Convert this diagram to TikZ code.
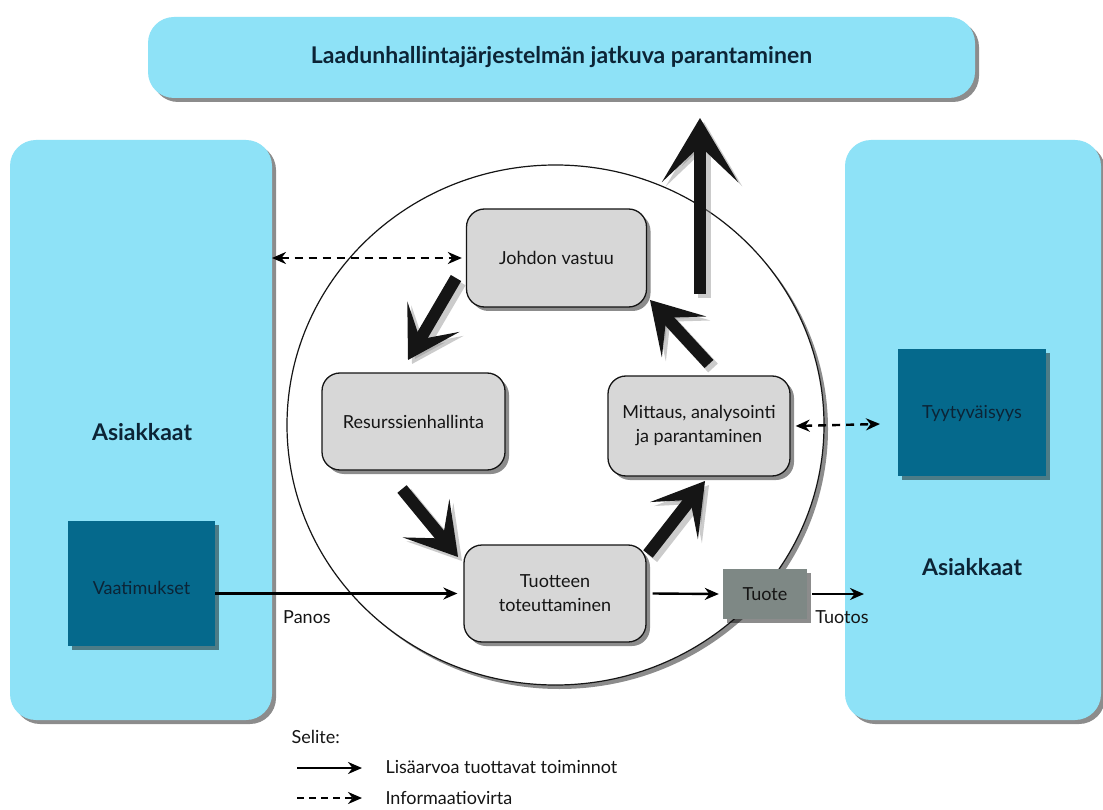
\documentclass[tikz,border=0pt]{standalone}
\usepackage{fontspec}
\setmainfont{Lato}
\usetikzlibrary{arrows.meta,shadows,shapes.geometric}
\definecolor{cyanc}{HTML}{8EE2F7}
\definecolor{tealc}{HTML}{05698C}
\definecolor{navyt}{HTML}{0C2436}
\definecolor{grayc}{HTML}{D7D7D7}
\definecolor{tuotec}{HTML}{7E8885}
\definecolor{inkc}{HTML}{151515}
\begin{document}
\begin{tikzpicture}[x=1pt,y=-1pt,
  font=\fontsize{18}{24}\selectfont,
  shad/.style={drop shadow={shadow xshift=4pt,shadow yshift=-4pt,opacity=0.45,fill=black}},
  cyanbox/.style={fill=cyanc, rounded corners=26pt, shad},
  darkbox/.style={fill=tealc, text=navyt, shad},
  procbox/.style={fill=grayc, draw=inkc, line width=1.3pt, rounded corners=18pt, shad, align=center, minimum width=180pt, minimum height=98pt, text=inkc},
  tuotebox/.style={fill=tuotec, text=inkc, shad, minimum width=84pt, minimum height=50pt},
  sketch/.style={draw=inkc, line width=12pt, -{Stealth[length=50pt,width=60pt,inset=26pt]}},
  sketchshadow/.style={draw=black!45, line width=13pt, opacity=0.45, -{Stealth[length=50pt,width=60pt,inset=26pt]}},
  bigup/.style={-{Stealth[length=64pt,width=76pt,inset=36pt]}},
  flow/.style={draw=black, line width=2.4pt, -{Stealth[length=14pt,width=12pt]}},
  info/.style={draw=black, line width=2.4pt, dash pattern=on 8pt off 6pt, {Stealth[length=14pt,width=12pt]}-{Stealth[length=14pt,width=12pt]}},
  lbl/.style={text=inkc},
  bigbold/.style={font=\fontsize{23}{26}\selectfont\bfseries, text=navyt}
]
\useasboundingbox (0,0) rectangle (1103,810);
\fill[white] (0,0) rectangle (1103,810);

% top banner
\node[cyanbox, bigbold, minimum width=827pt, minimum height=81pt] (top) at (561.5,57.5) {Laadunhallintajärjestelmän jatkuva parantaminen};

% side customer blocks
\node[cyanbox, minimum width=262pt, minimum height=580pt] (left) at (141,430) {};
\node[cyanbox, minimum width=256pt, minimum height=580pt] (right) at (973,430) {};
\node[bigbold] (asl) at (142,432) {Asiakkaat};
\node[bigbold] (asr) at (972,567) {Asiakkaat};

\node[darkbox, minimum width=147pt, minimum height=125pt] (vaat) at (141.5,583.5) {};
\node[text=navyt] (vaatt) at (141.5,588) {Vaatimukset};
\node[darkbox, minimum width=148pt, minimum height=127pt] (tyyt) at (972,412.5) {};
\node[text=navyt] (tyytt) at (972,413) {Tyytyväisyys};

% circle
\node[ellipse, draw=inkc, line width=1.2pt, fill=white, inner sep=0pt, minimum width=537pt, minimum height=520pt, shad] (circ) at (555.5,425) {};

% process boxes
\node[procbox] (johto) at (556.5,258) {Johdon vastuu};
\node[procbox, minimum width=183pt, minimum height=97pt] (resu) at (413.5,421.5) {Resurssienhallinta};
\node[procbox, minimum width=182pt, minimum height=100pt] (mitt) at (699,426) {Mittaus, analysointi\\ja parantaminen};
\node[procbox, minimum width=182pt, minimum height=97pt] (tuot) at (555,593.5) {Tuotteen\\toteuttaminen};
\node[tuotebox] (tuote) at (765,594) {Tuote};

% sketch arrows coordinates
\coordinate (upS) at (700,294);
\coordinate (upE) at (700,118);
\coordinate (a1S) at (456,278);
\coordinate (a1E) at (408,360);
\coordinate (a2S) at (402,489);
\coordinate (a2E) at (458,557);
\coordinate (a3S) at (648,554);
\coordinate (a3E) at (705,481);
\coordinate (a4S) at (709,364);
\coordinate (a4E) at (650,300);

\foreach \s/\e in {a1S/a1E,a2S/a2E,a3S/a3E,a4S/a4E}{
  \draw[sketchshadow, transform canvas={xshift=4pt,yshift=-4pt}] (\s) -- (\e);
}
\draw[sketchshadow, bigup, transform canvas={xshift=4pt,yshift=-4pt}] (upS) -- (upE);
\foreach \s/\e in {a1S/a1E,a2S/a2E,a3S/a3E,a4S/a4E}{
  \draw[sketch] (\s) -- (\e);
}
\draw[sketch, bigup] (upS) -- (upE);

% flows
\draw[flow] (vaat.east |- tuot.west) -- ([xshift=-6pt]tuot.west);
\draw[flow] ([xshift=6pt]tuot.east) -- ([xshift=-4pt]tuote.west);
\coordinate (outE) at (864,594);
\draw[flow] ([xshift=5pt]tuote.east) -- (outE);
\node[lbl] (panos) at (307,617) {Panos};
\node[lbl] (tuotos) at (842,617) {Tuotos};

% information flows
\coordinate (i1L) at (272,258);
\draw[info] (i1L) -- ([xshift=-4pt]johto.west);
\coordinate (i2R) at (880,424);
\draw[info] ([xshift=5pt]mitt.east) -- (i2R);

% legend
\node[lbl, anchor=west] (sel) at (288,737) {Selite:};
\coordinate (l1a) at (297,768);
\coordinate (l1b) at (362,768);
\coordinate (l2a) at (297,798);
\coordinate (l2b) at (362,798);
\draw[flow] (l1a) -- (l1b);
\draw[flow, dash pattern=on 7pt off 5pt] (l2a) -- (l2b);
\node[lbl, anchor=west] (leg1) at (382,767) {Lisäarvoa tuottavat toiminnot};
\node[lbl, anchor=west] (leg2) at (382,798) {Informaatiovirta};
\end{tikzpicture}
\end{document}
